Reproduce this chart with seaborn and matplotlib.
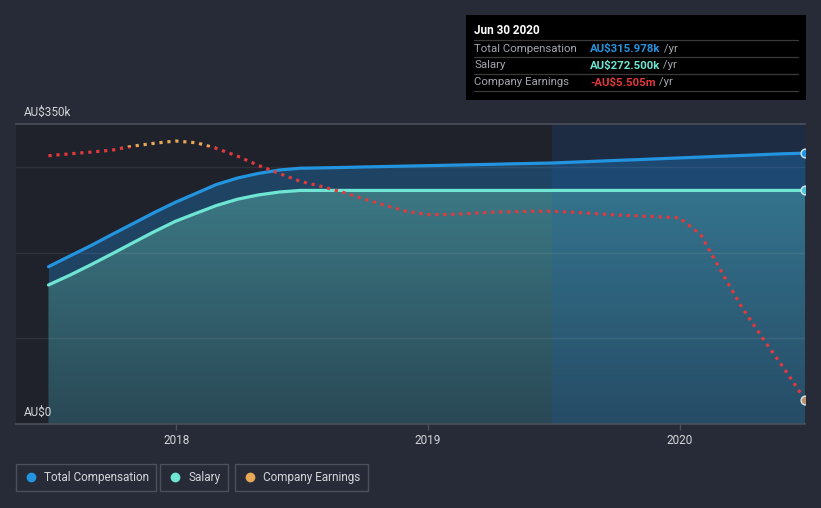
import matplotlib
matplotlib.use("Agg")
import matplotlib.pyplot as plt
import matplotlib.dates as mdates
import matplotlib.transforms as mtransforms
from matplotlib.lines import Line2D
from matplotlib.patches import Rectangle
from matplotlib.text import Annotation
import numpy as np
import pandas as pd
import seaborn as sns

# monthly values, Jun 2017 .. Jun 2020 (month ends)
start, end = "2017-06-30", "2020-06-30"
total_comp = [183.5, 196.0, 208.3, 221.1, 234.0, 246.6, 258.7, 269.5, 279.3,
              287.0, 292.3, 296.4, 298.4,
              298.8, 299.3, 299.9, 300.4, 300.9, 301.4,
              301.9, 302.4, 302.9, 303.5, 304.0, 304.5,
              305.5, 306.5, 307.5, 308.4, 309.4, 310.4,
              311.4, 312.4, 313.3, 314.3, 315.3, 315.978]      # AU$k
salary = [162.2, 173.6, 186.0, 198.5, 211.7, 224.3, 236.5, 246.2, 254.8,
          262.3, 267.2, 270.7, 272.5] + [272.5] * 24            # AU$k
earnings = [-0.19, -0.15, -0.11, -0.07, 0.02, 0.08, 0.13, 0.09, -0.03,
            -0.20, -0.40, -0.58, -0.75,
            -0.86, -0.99, -1.13, -1.27, -1.40, -1.47,
            -1.47, -1.45, -1.42, -1.41, -1.40, -1.40,
            -1.42, -1.45, -1.48, -1.50, -1.52, -1.54,
            -1.91, -2.69, -3.50, -4.17, -4.83, -5.505]         # AU$m
x_ticks = ["2018-01-01", "2019-01-01", "2020-01-01"]
x_tick_labels = ["2018", "2019", "2020"]
y_labels = {0: "AU$0", 350: "AU$350k"}

BG = "#262b37"
PLOT_BG = "#1f222b"
BLUE = "#2394df"
TEAL = "#6ee6d3"
RED = "#e0393e"
ORANGE = "#e8a857"
EDGE = "#4b505b"
TXT = "#d4d6da"
GREY = "#a3a7ad"

try:
    months = pd.date_range(start, end, freq="ME")
except ValueError:
    months = pd.date_range(start, end, freq="M")

df = pd.DataFrame({
    "date": months,
    "total": total_comp,
    "salary": salary,
    "earnings": earnings,
})

sns.set_theme(style="dark")
plt.rcParams["font.family"] = ["Roboto", "DejaVu Sans"]

W, H = 821, 508
fig = plt.figure(figsize=(W / 100, H / 100), dpi=100, facecolor=BG)
ax = fig.add_axes([16 / W, 1 - 424 / H, 789 / W, 300 / H])
ax.set_facecolor(PLOT_BG)

# fills
ax.fill_between(df["date"], df["salary"], df["total"], color="#1f4463", lw=0, zorder=1)
poly = ax.fill_between(df["date"], 0, df["salary"], color="none", lw=0, zorder=1)
xlo = mdates.date2num(pd.Timestamp("2017-05-14"))
xhi = mdates.date2num(pd.Timestamp(end))
grad = np.linspace(0, 1, 256).reshape(-1, 1)
cmap = matplotlib.colors.LinearSegmentedColormap.from_list("g", ["#2a4855", "#3b7884"])
im = ax.imshow(grad, extent=[xlo, xhi, 0, max(salary)], origin="lower",
               aspect="auto", cmap=cmap, zorder=1.1)
im.set_clip_path(poly.get_paths()[0], transform=ax.transData)

# highlighted last year
ax.axvspan(pd.Timestamp("2019-06-30"), pd.Timestamp(end),
           color="#1560bd", alpha=0.17, lw=0, zorder=1.5)

sns.lineplot(data=df, x="date", y="total", color=BLUE, lw=2.3, ax=ax, zorder=4)
sns.lineplot(data=df, x="date", y="salary", color=TEAL, lw=2.3, ax=ax, zorder=4)
ax.scatter(df["date"].iloc[-1:], df["total"].iloc[-1:], s=40, color=BLUE,
           edgecolor="#d8e6f0", lw=1, zorder=6)
ax.scatter(df["date"].iloc[-1:], df["salary"].iloc[-1:], s=40, color="#4fc3d4",
           edgecolor="#d8e6f0", lw=1, zorder=6)

ax.set_xlim(xlo, xhi)
ax.set_ylim(0, 350)
ax.set_yticks([100, 200, 300])
ax.set_yticklabels([])
ax.tick_params(axis="y", length=0)
ax.yaxis.grid(True, color="white", alpha=0.07, lw=1)
ax.xaxis.grid(False)
ax.set_axisbelow(False)
ax.set_xticks(pd.to_datetime(x_ticks))
ax.set_xticklabels(x_tick_labels, color=TXT, fontsize=8.5)
ax.tick_params(axis="x", length=4, color=EDGE, width=1, pad=3, bottom=True)
ax.set_xlabel("")
ax.set_ylabel("")
for s in ["left", "right"]:
    ax.spines[s].set_visible(False)
for s in ["top", "bottom"]:
    ax.spines[s].set_color(EDGE)
    ax.spines[s].set_linewidth(1.2)

for v, lab in y_labels.items():
    ax.text(8 / 789, v + 6, lab, color=TXT, fontsize=8.5, va="bottom",
            transform=mtransforms.blended_transform_factory(ax.transAxes, ax.transData))

# earnings on its own scale, orange where positive
ax2 = ax.twinx()
for lc, y0, h in [(RED, -100, 100), (ORANGE, 0, 100)]:
    sns.lineplot(data=df, x="date", y="earnings", color=lc, lw=2.3,
                 ax=ax2, zorder=5)
    ln = ax2.lines[-1]
    ln.set_linestyle((0, (1, 1.5)))
    clip = Rectangle((0, y0), 1, h,
                     transform=mtransforms.blended_transform_factory(ax2.transAxes, ax2.transData))
    ln.set_clip_path(clip)
ax2.scatter(df["date"].iloc[-1:], df["earnings"].iloc[-1:], s=40, color="#b8916a",
            edgecolor="#d8e6f0", lw=1, zorder=6)
ax2.set_ylim(-6.03, 0.50)
ax2.set_xlim(xlo, xhi)
ax2.set_yticks([])
ax2.set_ylabel("")
for s in ax2.spines.values():
    s.set_visible(False)

# tooltip
fig.patches.append(Rectangle((466 / W, 1 - 100 / H), 340 / W, 85 / H,
                             transform=fig.transFigure, facecolor="black",
                             edgecolor="none", zorder=10))
fig.text(474 / W, 1 - 31 / H, "Jun 30 2020", color="white", fontsize=8.5,
         fontweight="bold", va="center", zorder=11)
for yy in [40, 57, 74, 91]:
    fig.add_artist(Line2D([474 / W, 798 / W], [1 - yy / H, 1 - yy / H],
                          color="#3a3a3a", lw=0.9, zorder=11))
rows = [("Total Compensation", "AU$315.978k", BLUE),
        ("Salary", "AU$272.500k", TEAL),
        ("Company Earnings", "-AU$5.505m", RED)]
for i, (lab, val, c) in enumerate(rows):
    yy = 1 - (48.5 + 17 * i) / H
    fig.text(474 / W, yy, lab, color=GREY, fontsize=8.2, va="center", zorder=11)
    t = fig.text(590 / W, yy, val, color=c, fontsize=8.2, fontweight="bold",
                 va="center", zorder=11)
    yr = Annotation(" /yr", xy=(1, 0.5), xycoords=t, va="center", ha="left",
                    color=GREY, fontsize=8.2, annotation_clip=False)
    yr.set_zorder(11)
    fig.add_artist(yr)

# legend boxes
items = [("Total Compensation", BLUE, 16), ("Salary", TEAL, 160),
         ("Company Earnings", ORANGE, 235)]
for lab, c, x0 in items:
    h = Line2D([], [], marker="o", ls="", color=c, markersize=6)
    fig.legend(handles=[h], labels=[lab], loc="center left",
               bbox_to_anchor=(x0 / W, 1 - 477.5 / H), borderaxespad=0,
               frameon=True, fancybox=False, edgecolor=EDGE, facecolor=BG,
               framealpha=1, fontsize=8.5, labelcolor=TXT, handlelength=1.4,
               handletextpad=0.4, borderpad=0.6)

fig.savefig("out.png", dpi=100, facecolor=BG)
